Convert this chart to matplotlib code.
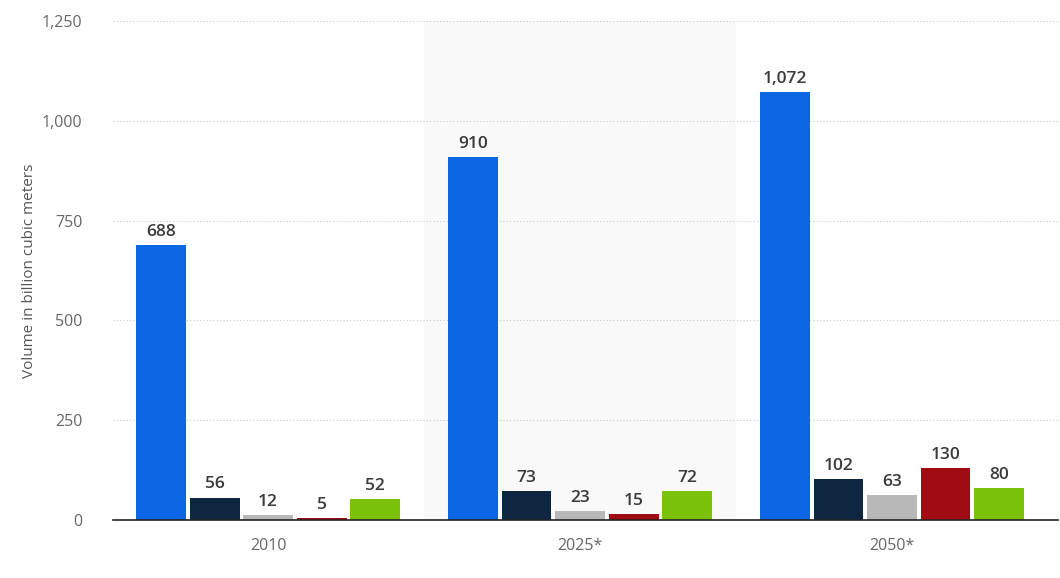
import numpy as np
import matplotlib
matplotlib.use("Agg")
import matplotlib.pyplot as plt

years = ["2010", "2025*", "2050*"]
series1 = [688, 910, 1072]
series2 = [56, 73, 102]
series3 = [12, 23, 63]
series4 = [5, 15, 130]
series5 = [52, 72, 80]
colors = ["#0b66e4", "#0f2640", "#b8b8b8", "#a00c14", "#7cc20a"]

plt.rcParams['font.family'] = ['Open Sans', 'DejaVu Sans']

fig = plt.figure(figsize=(10.6, 5.78), dpi=100)
ax = fig.add_axes([113/1060, 58/578, 945/1060, 499/578])

x = np.arange(len(years))
step = 0.1715
width = 0.16
all_series = [series1, series2, series3, series4, series5]

# highlighted middle group
ax.axvspan(0.5, 1.5, color="#f9f9f9", zorder=0, lw=0)

for i, vals in enumerate(all_series):
    pos = x + (i - 2) * step
    ax.bar(pos, vals, width, color=colors[i], zorder=2)
    for p, v in zip(pos, vals):
        ax.text(p, v + 13, f"{v:,}", ha="center", va="bottom",
                fontsize=12.5, fontweight="semibold", color="#3a3a3a")

ax.set_xlim(-0.497, 2.532)
ax.set_ylim(0, 1250)
ax.set_yticks(np.arange(0, 1251, 250))
ax.set_yticklabels([f"{v:,}" for v in range(0, 1251, 250)])
ax.set_xticks(x)
ax.set_xticklabels(years)
ax.tick_params(axis="both", colors="#666666", labelsize=11.5, length=0)
ax.tick_params(axis="y", pad=22)
ax.tick_params(axis="x", pad=13)

ax.grid(axis="y", linestyle=(0, (1, 2)), color="#c8c8c8", lw=0.8, zorder=1)
for s in ["top", "right", "left"]:
    ax.spines[s].set_visible(False)
ax.spines["bottom"].set_color("#222222")
ax.spines["bottom"].set_linewidth(1.2)
ax.spines["bottom"].set_zorder(3)

ax.set_ylabel("Volume in billion cubic meters", fontsize=11, color="#555555")
ax.yaxis.set_label_coords(-0.08, 0.5)

fig.savefig("out.png", dpi=100)
